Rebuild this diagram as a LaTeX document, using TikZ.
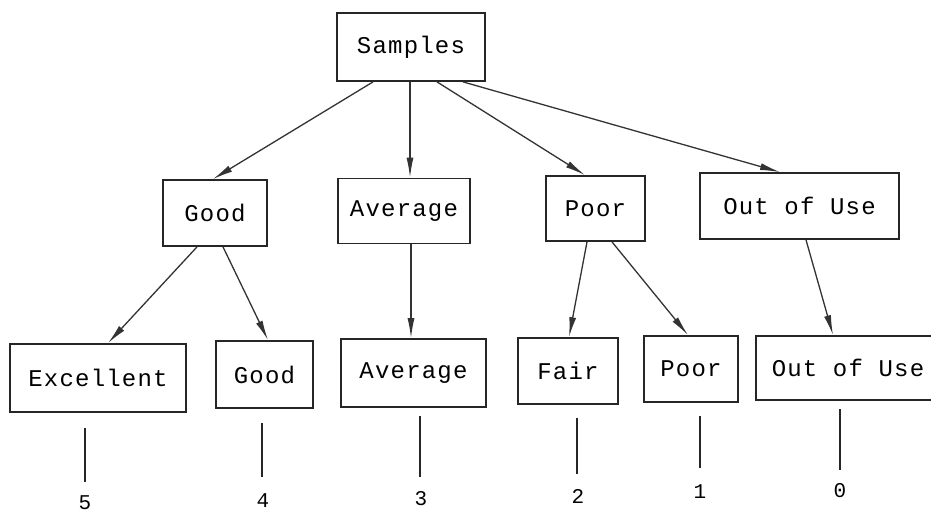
\documentclass[tikz,border=0pt]{standalone}
\usepackage{fontspec}
\setmonofont{Liberation Mono}
\newfontfamily\boxfont[LetterSpace=5]{Liberation Mono}
\usetikzlibrary{arrows.meta}
\tikzset{
  box/.style={draw=black!85, line width=1.8pt, inner sep=0pt, anchor=center,
    font=\boxfont\fontsize{24}{24}\selectfont},
  arr/.style={line width=1.3pt, draw=black!80, -{Latex[length=20pt,width=7pt]}},
  tick/.style={line width=2pt, draw=black!85},
  num/.style={inner sep=0pt, font=\boxfont\fontsize{21}{21}\selectfont}
}
\begin{document}
\begin{tikzpicture}[x=1pt,y=-1pt]
\useasboundingbox (0,0) rectangle (931,516);
% level 0
\node[box, minimum width=148pt, minimum height=68pt] (S) at (411,47) {Samples};
% level 1
\node[box, minimum width=104pt, minimum height=66pt] (G1) at (215,213) {Good};
\node[box, minimum width=132pt, minimum height=65pt] (A1) at (404,211) {Average};
\node[box, minimum width=99pt, minimum height=65pt] (P1) at (595.5,208.5) {Poor};
\node[box, minimum width=199pt, minimum height=66pt] (O1) at (799.5,206) {Out of Use};
% level 2
\node[box, minimum width=176pt, minimum height=68pt] (Ex) at (98,378) {Excellent};
\node[box, minimum width=97pt, minimum height=67pt] (G2) at (264.5,374.5) {Good};
\node[box, minimum width=145pt, minimum height=68pt] (A2) at (413.5,373) {Average};
\node[box, minimum width=100pt, minimum height=66pt] (F) at (568,371) {Fair};
\node[box, minimum width=94pt, minimum height=66pt] (P2) at (691,369) {Poor};
\node[box, minimum width=184pt, minimum height=64pt] (O2) at (848,368) {Out of Use};
% arrows
\draw[arr] ([xshift=-38]S.south) -- ([xshift=-2]G1.north);
\draw[arr] ([xshift=-1]S.south) -- ([xshift=6]A1.north);
\draw[arr] ([xshift=26]S.south) -- ([xshift=-10.5]P1.north);
\draw[arr] ([xshift=52]S.south) -- ([xshift=-19.5]O1.north);
\draw[arr] ([xshift=-18]G1.south) -- ([xshift=10]Ex.north);
\draw[arr] ([xshift=8]G1.south) -- ([xshift=3.5]G2.north);
\draw[arr] ([xshift=7]A1.south) -- ([xshift=-2.5]A2.north);
\draw[arr] ([xshift=-8.5]P1.south) -- ([xshift=1]F.north);
\draw[arr] ([xshift=16.5]P1.south) -- ([xshift=-3]P2.north);
\draw[arr] ([xshift=6.5]O1.south) -- ([xshift=-15]O2.north);
% value ticks
\coordinate (t5a) at (85,428);  \coordinate (t5b) at (85,482);
\coordinate (t4a) at (262,423); \coordinate (t4b) at (262,477);
\coordinate (t3a) at (420,416); \coordinate (t3b) at (420,477);
\coordinate (t2a) at (577,418); \coordinate (t2b) at (577,474);
\coordinate (t1a) at (700,416); \coordinate (t1b) at (700,468);
\coordinate (t0a) at (840,409); \coordinate (t0b) at (840,470);
\draw[tick] (t5a) -- (t5b);
\draw[tick] (t4a) -- (t4b);
\draw[tick] (t3a) -- (t3b);
\draw[tick] (t2a) -- (t2b);
\draw[tick] (t1a) -- (t1b);
\draw[tick] (t0a) -- (t0b);
\node[num] (n5) at (85,503) {5};
\node[num] (n4) at (263,501) {4};
\node[num] (n3) at (421,499) {3};
\node[num] (n2) at (578,496) {2};
\node[num] (n1) at (700,492) {1};
\node[num] (n0) at (840,491) {0};
\end{tikzpicture}
\end{document}
